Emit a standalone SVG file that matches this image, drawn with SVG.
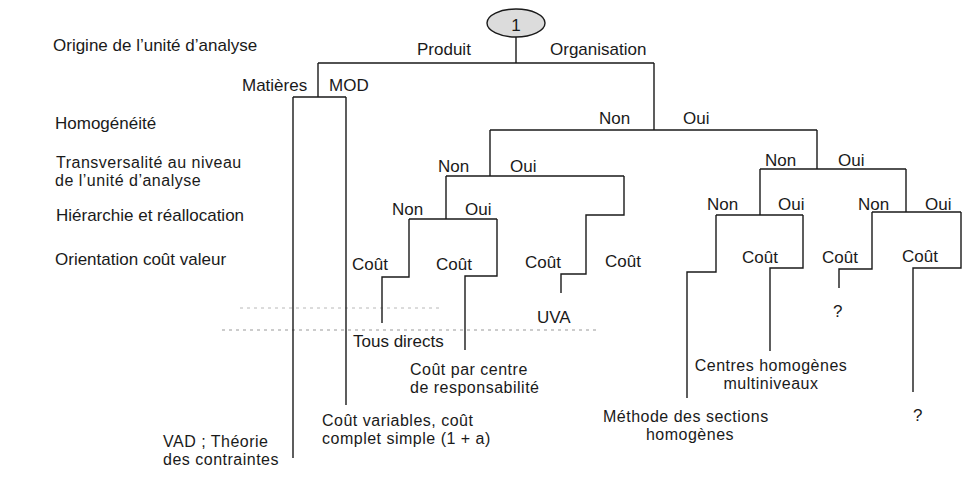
<svg xmlns="http://www.w3.org/2000/svg" width="967" height="486" viewBox="0 0 967 486">
<style>
text{font-family:"Liberation Sans",Arial,sans-serif;font-size:17px;fill:#1a1a1a}
.two{font-size:16px;letter-spacing:0.5px}
.ln{fill:none;stroke:#1a1a1a;stroke-width:1.4}
.art{fill:none;stroke:#b8b8b8;stroke-width:1;stroke-dasharray:3 4}
.mid{text-anchor:middle}
</style>
<rect width="967" height="486" fill="#ffffff"/>
<g id="scan-marks">
<line class="art" x1="240" y1="308" x2="442" y2="308"/>
<line class="art" x1="222" y1="330" x2="600" y2="330" style="stroke:#999"/>
</g>
<g id="levels">
<text x="53" y="51">Origine de l’unité d’analyse</text>
<text x="55" y="129">Homogénéité</text>
<text x="56" y="168" class="two">Transversalité au niveau</text>
<text x="55" y="186" class="two">de l’unité d’analyse</text>
<text x="56" y="221">Hiérarchie et réallocation</text>
<text x="55" y="265">Orientation coût valeur</text>
</g>
<g id="connectors">
<path class="ln" d="M516 37V63M318 63H654"/>
<path class="ln" d="M318 63V97M293 97H346M293 97V458M346 97V405"/>
<path class="ln" d="M654 63V130M490 130H817"/>
<path class="ln" d="M490 130V176M446 176H624"/>
<path class="ln" d="M446 176V219M409 219H497"/>
<path class="ln" d="M409 219V277H382V323"/>
<path class="ln" d="M497 219V276H465V350"/>
<path class="ln" d="M624 176V215H586V274H561V293"/>
<path class="ln" d="M817 130V169M760 169H906"/>
<path class="ln" d="M760 169V215M716 215H803"/>
<path class="ln" d="M716 215V272H687V398"/>
<path class="ln" d="M803 215V268H770V351"/>
<path class="ln" d="M906 169V212M872 212H961"/>
<path class="ln" d="M872 212V269H839V288"/>
<path class="ln" d="M961 212V268H913V392"/>
</g>
<g id="root">
<ellipse cx="516" cy="23" rx="29" ry="14" fill="#dcdcdc" stroke="#1a1a1a" stroke-width="1.4"/>
<text x="516" y="31" class="mid">1</text>
</g>
<g id="origin-branches">
<text x="417" y="55">Produit</text>
<text x="550" y="55">Organisation</text>
</g>
<g id="product-branches">
<text x="242" y="91">Matières</text>
<text x="329" y="91">MOD</text>
</g>
<g id="homogeneity-branches">
<text x="599" y="124">Non</text>
<text x="683" y="124">Oui</text>
</g>
<g id="transversality-branches">
<text x="438" y="172">Non</text>
<text x="510" y="172">Oui</text>
<text x="765" y="166">Non</text>
<text x="838" y="166">Oui</text>
</g>
<g id="hierarchy-branches">
<text x="392" y="215">Non</text>
<text x="465" y="215">Oui</text>
<text x="707" y="210">Non</text>
<text x="778" y="210">Oui</text>
<text x="858" y="210">Non</text>
<text x="925" y="210">Oui</text>
</g>
<g id="cost-branches">
<text x="352" y="270">Coût</text>
<text x="436" y="270">Coût</text>
<text x="525" y="268">Coût</text>
<text x="605" y="267">Coût</text>
<text x="742" y="263">Coût</text>
<text x="822" y="263">Coût</text>
<text x="902" y="262">Coût</text>
</g>
<g id="leaf-uva"><text x="537" y="323">UVA</text></g>
<g id="leaf-q1"><text x="833" y="317">?</text></g>
<g id="leaf-tous-directs"><text x="353" y="347">Tous directs</text></g>
<g id="leaf-centre-resp">
<text x="410" y="375" class="two">Coût par centre</text>
<text x="410" y="393" class="two">de responsabilité</text>
</g>
<g id="leaf-centres-homogenes">
<text x="771" y="371" class="mid two">Centres homogènes</text>
<text x="771" y="389" class="mid two">multiniveaux</text>
</g>
<g id="leaf-cout-variables">
<text x="322" y="426" class="two">Coût variables, coût</text>
<text x="322" y="444" class="two">complet simple (1 + a)</text>
</g>
<g id="leaf-sections">
<text x="603" y="422" class="two">Méthode des sections</text>
<text x="690" y="440" class="mid two">homogènes</text>
</g>
<g id="leaf-q2"><text x="913" y="421">?</text></g>
<g id="leaf-vad">
<text x="163" y="447" class="two">VAD ; Théorie</text>
<text x="163" y="465" class="two">des contraintes</text>
</g>
</svg>
